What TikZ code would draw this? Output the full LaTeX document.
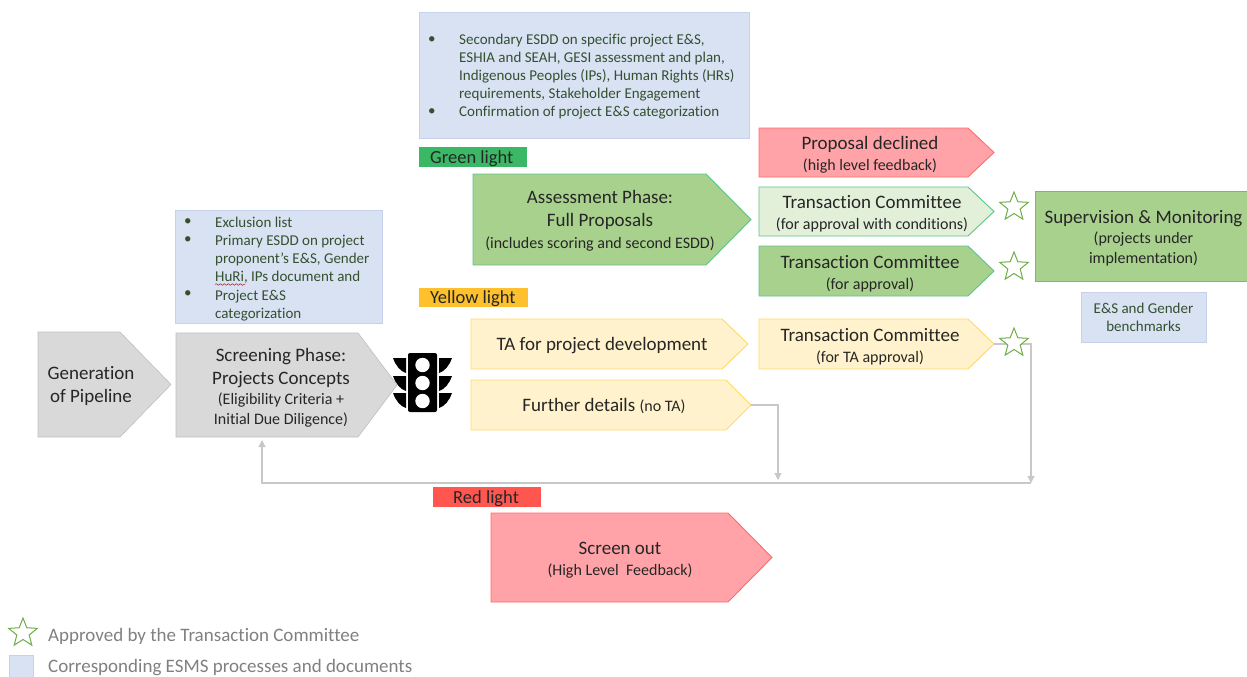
\documentclass[tikz,border=0pt]{standalone}
\usepackage{fontspec}
\setmainfont[Ligatures=NoCommon]{Carlito}
\usetikzlibrary{arrows.meta,decorations.pathmorphing}
\definecolor{bluefill}{HTML}{D9E2F3}
\definecolor{blueline}{HTML}{C5D2EA}
\definecolor{grayfill}{HTML}{D9D9D9}
\definecolor{grayline}{HTML}{BFBFBF}
\definecolor{connc}{HTML}{C8C8C8}
\definecolor{greenfill}{HTML}{A9D18E}
\definecolor{greenline}{HTML}{5CC48A}
\definecolor{palegreen}{HTML}{E2F0D9}
\definecolor{yellowfill}{HTML}{FFF2CC}
\definecolor{yellowline}{HTML}{FFD966}
\definecolor{redfill}{HTML}{FFA3A8}
\definecolor{redline}{HTML}{FF6B6B}
\definecolor{textdark}{HTML}{262626}
\definecolor{bluetext}{HTML}{34502F}
\definecolor{startc}{HTML}{70AD47}
\definecolor{labgreen}{HTML}{3BB865}
\definecolor{labyellow}{HTML}{FFC02D}
\definecolor{labred}{HTML}{FF5650}
\newcommand{\fsA}{\fontsize{19}{23}\selectfont}
\newcommand{\fsB}{\fontsize{16}{19.5}\selectfont}
\newcommand{\fsC}{\fontsize{15}{18.1}\selectfont}
\newcommand{\pshift}{1}
\newcommand{\penta}[9]{%
  \draw[#7] (#2,#3) -- (#6,#3) -- (#4,{(#3+#5)/2}) -- (#6,#5) -- (#2,#5) -- cycle;
  \coordinate (#1-tip) at (#4,{(#3+#5)/2});
  \node[pentatext] (#1) at (#8,{(#3+#5)/2+\pshift}) {#9};
}
\newcommand{\starshape}[1]{%
  \draw[starline,shift={#1}] (-90:15) -- (-54:6.5) -- (-18:15) -- (18:6.5) -- (54:15) -- (90:6.5) -- (126:15) -- (162:6.5) -- (198:15) -- (234:6.5) -- cycle;
}
\tikzset{
  x=1pt,y=-1pt,
  pentatext/.style={align=center,inner sep=0pt,text=textdark,font=\fsA},
  graypent/.style={fill=grayfill,draw=grayline,line width=.6pt},
  greenpent/.style={fill=greenfill,draw=greenline,line width=.9pt},
  palepent/.style={fill=palegreen,draw=greenline,line width=.9pt},
  yellowpent/.style={fill=yellowfill,draw=yellowline,line width=.9pt},
  redpent/.style={fill=redfill,draw=redline,line width=.9pt},
  bluebox/.style={fill=bluefill,draw=blueline,line width=.9pt},
  bluetxt/.style={align=left,anchor=north west,inner sep=0pt,text=bluetext,font=\fsC},
  lightlabel/.style={anchor=west,inner sep=0pt,text=textdark,font=\fontsize{18.5}{22}\selectfont},
  legendtxt/.style={anchor=west,inner sep=0pt,text=black!50,font=\fontsize{19}{23}\selectfont},
  starline/.style={draw=startc,line width=1pt,fill=white},
  conn/.style={draw=connc,line width=1.1pt,-{Triangle[length=7pt,width=7pt]}},
}
\begin{document}
\begin{tikzpicture}
\useasboundingbox (0,0) rectangle (1247,677);
% blue boxes
\draw[bluebox] (419,12) rectangle (749,138);
\node[bluetxt] (topbul) at (428,36) {•\\[54.3pt]•};
\node[bluetxt] (toptxt) at (459,33.5) {Secondary ESDD on specific project E\&S,\\ESHIA and SEAH, GESI assessment and plan,\\Indigenous Peoples (IPs), Human Rights (HRs)\\requirements, Stakeholder Engagement\\Confirmation of project E\&S categorization};
\draw[bluebox] (175,210) rectangle (382,323);
\node[bluetxt] (scrbul) at (184,218.5) {•\\•\\[36.2pt]•};
\node[bluetxt] (scrtxt) at (215,217) {Exclusion list\\Primary ESDD on project\\proponent’s E\&S, Gender\\HuRi, IPs document and\\Project E\&S\\categorization};
\draw[red!80!black,line width=.5pt,decorate,decoration={snake,amplitude=.8pt,segment length=4pt}] (215,284.5) -- (245,284.5);
\draw[bluebox] (1081,292) rectangle (1206,342);
\node[bluetxt,align=center,anchor=center] (bench) at (1143.5,317) {E\&S and Gender\\benchmarks};
% labels
\fill[labgreen] (419,147) rectangle (527,167);
\node[lightlabel] (green) at (430,158.5) {Green light};
\fill[labyellow] (419,288) rectangle (528,307);
\node[lightlabel] (yellow) at (430,298.5) {Yellow light};
\fill[labred] (433,487) rectangle (541,507);
\node[lightlabel] (redl) at (453,498.5) {Red light};
% pentagons
\penta{gen}{38}{332}{171}{437}{120}{graypent}{91}{Generation\\of Pipeline}
\penta{ass}{473}{174}{751}{265}{706}{greenpent}{600}{Assessment Phase:\\Full Proposals\\[-1pt]{\fsB (includes scoring and second ESDD)}}
\penta{fur}{471}{380}{751}{430}{726}{yellowpent}{604}{Further details {\fsB (no TA)}}
\renewcommand{\pshift}{2}
\penta{tap}{471}{319}{748}{369}{722}{yellowpent}{602}{TA for project development}
\renewcommand{\pshift}{2.5}
\penta{scr}{176}{333}{397}{437}{358}{graypent}{281}{Screening Phase:\\Projects Concepts\\[-3pt]{\fsB (Eligibility Criteria +}\\[-3pt]{\fsB Initial Due Diligence)}}
\penta{dec}{759}{128}{994}{177}{968}{redpent}{870}{Proposal declined\\[-2pt]{\fsB (high level feedback)}}
\penta{tcc}{759}{187}{994}{236}{968}{palepent}{872}{Transaction Committee\\[-2pt]{\fsB (for approval with conditions)}}
\penta{tca}{759}{246}{994}{296}{968}{greenpent}{870}{Transaction Committee\\[-2pt]{\fsB (for approval)}}
\penta{tct}{759}{319}{994}{369}{968}{yellowpent}{870}{Transaction Committee\\[-2pt]{\fsB (for TA approval)}}
\penta{out}{491}{513}{772}{602}{728}{redpent}{620}{Screen out\\[-2pt]{\fsB (High Level\ \ Feedback)}}
% connectors
\coordinate (junc) at (1031,483);
\coordinate (furdown) at (778,480);
\coordinate (scrin) at (262,440);
\draw[conn] (fur-tip) -| (furdown);
\draw[conn] (tct-tip) -| (junc);
\draw[conn] (junc) -| (scrin);
% stars
\starshape{(1014,207)}
\starshape{(1014,267)}
\starshape{(1014,343)}
% supervision
\draw[fill=greenfill,draw=greenline,line width=1pt] (1035,191) rectangle (1247.5,281);
\node[pentatext] (sup) at (1143.5,238) {Supervision \& Monitoring\\[-3pt]{\fsB (projects under}\\[-3pt]{\fsB implementation)}};
% traffic light
\fill[black,rounded corners=2pt] (408,353) rectangle (437,412);
\foreach \yy in {358,376,393}{
  \fill[black] (393,\yy) -- (406,\yy) -- (406,\yy+15) .. controls (400,\yy+13) and (396,\yy+8) .. cycle;
  \fill[black] (452,\yy) -- (439,\yy) -- (439,\yy+15) .. controls (445,\yy+13) and (449,\yy+8) .. cycle;
}
\foreach \yy in {365,383,401}{\fill[white] (422.5,\yy) circle (7.2);}
% legend
\starshape{(23,633)}
\node[legendtxt] (lg1) at (48,636) {Approved by the Transaction Committee};
\draw[bluebox] (9,655) rectangle (33,677);
\node[legendtxt] (lg2) at (48,668) {Corresponding ESMS processes and documents};
\end{tikzpicture}
\end{document}
